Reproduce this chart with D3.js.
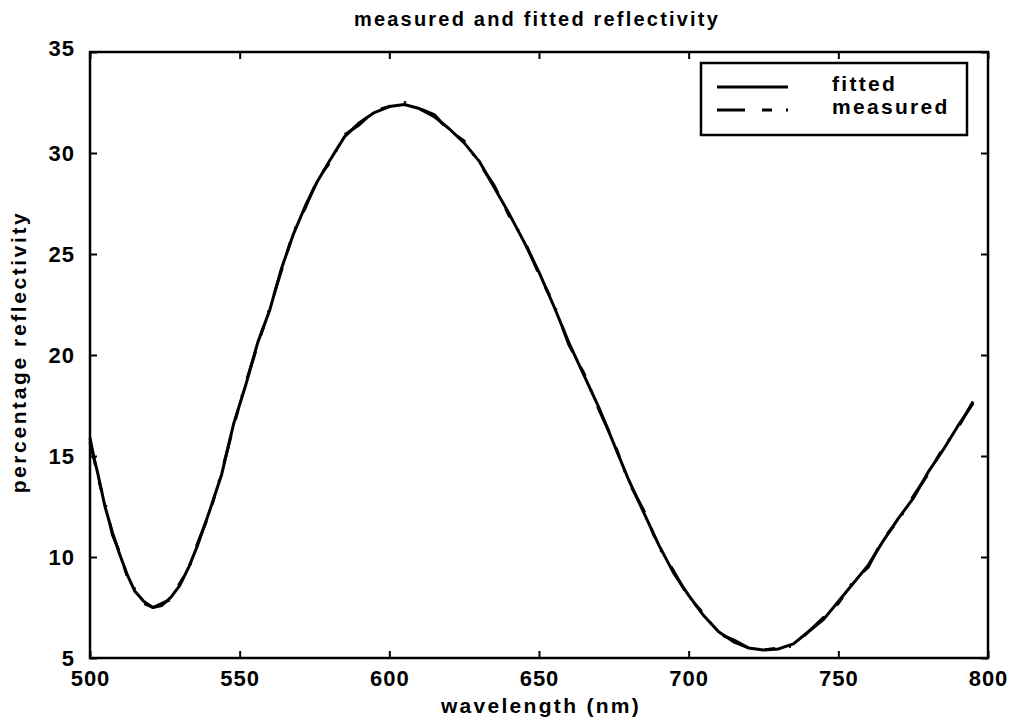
<!DOCTYPE html>
<head>
  <meta charset="utf-8">
  <script src="https://d3js.org/d3.v7.min.js"></script>
  <style>
    body { margin: 0; background: white; }
    text {
      font-family: "Liberation Sans", Arial, sans-serif;
      font-weight: bold;
      fill: black;
    }
    path.curve {
      fill: none;
      stroke: black;
      stroke-width: 3;
      stroke-linejoin: round;
    }
  </style>
</head>

<body>
  <script>
const W = 1014;
const H = 722;
const L = 90, R = 988, T = 52, B = 658;

// wavelength (nm)
const wavelength = [500, 502.5, 505, 507.5, 510, 512.5, 515, 518, 521, 524, 527, 530, 533, 536,
  540, 544, 548, 552, 556, 560, 564, 568, 572, 576, 580, 585, 590, 595, 600, 605, 610, 615,
  620, 625, 630, 635, 640, 645, 650, 655, 660, 665, 670, 675, 680, 685, 690, 695, 700, 705,
  710, 715, 720, 725, 730, 735, 740, 745, 750, 755, 760, 765, 770, 775, 780, 785, 790, 795];

// fitted reflectivity (%)
const fitted = [15.7, 14.2, 12.5, 11.2, 10.1, 9.1, 8.3, 7.8, 7.5, 7.6, 8.0, 8.6, 9.5, 10.6,
  12.3, 14.1, 16.6, 18.5, 20.6, 22.2, 24.3, 26.0, 27.4, 28.6, 29.6, 30.8, 31.5, 32.0, 32.3, 32.4, 32.2, 31.8,
  31.2, 30.5, 29.6, 28.3, 27.0, 25.6, 24.1, 22.4, 20.6, 19.0, 17.4, 15.6, 13.8, 12.2, 10.6, 9.2, 8.1, 7.1,
  6.3, 5.8, 5.5, 5.4, 5.45, 5.7, 6.3, 6.9, 7.8, 8.7, 9.6, 10.8, 11.9, 12.9, 14.2, 15.3, 16.5, 17.6];

// measured reflectivity (%)
const measured = [15.9, 14.0, 12.7, 11.1, 10.2, 9.0, 8.4, 7.7, 7.5, 7.7, 7.9, 8.7, 9.4, 10.7,
  12.2, 14.2, 16.5, 18.6, 20.5, 22.3, 24.2, 26.1, 27.3, 28.7, 29.5, 30.9, 31.4, 32.1, 32.3, 32.5, 32.2, 31.9,
  31.1, 30.6, 29.5, 28.4, 26.9, 25.7, 24.0, 22.5, 20.5, 19.1, 17.3, 15.7, 13.7, 12.3, 10.5, 9.3, 8.0, 7.2,
  6.2, 5.9, 5.5, 5.4, 5.5, 5.6, 6.3, 7.0, 7.7, 8.8, 9.5, 10.9, 11.8, 13.0, 14.1, 15.4, 16.4, 17.7];

const xTicks = [500, 550, 600, 650, 700, 750, 800];
const yTicks = [5, 10, 15, 20, 25, 30, 35];

var svg = d3.select("body").append("svg")
  .attr("width", W)
  .attr("height", H);

var x = d3.scaleLinear().domain([500, 800]).range([L, R]);
var y = d3.scaleLinear().domain([5, 35]).range([B, T]);

var line = d3.line()
  .x(d => x(d[0]))
  .y(d => y(d[1]));

// curves
svg.append("path")
  .attr("class", "curve")
  .attr("d", line(wavelength.map((w, i) => [w, fitted[i]])));

svg.append("path")
  .attr("class", "curve")
  .attr("stroke-dasharray", "28,17,10,14,2,17")
  .attr("d", line(wavelength.map((w, i) => [w, measured[i]])));

// axes, ticks inside on all four sides
function axisStyle(g) {
  g.select(".domain").remove();
  g.selectAll(".tick line").attr("stroke", "black").attr("stroke-width", 2);
  g.selectAll(".tick text")
    .style("font-size", "22px")
    .style("letter-spacing", "1px");
}

svg.append("g")
  .attr("transform", "translate(0," + B + ")")
  .call(d3.axisBottom(x).tickValues(xTicks).tickSizeInner(-7).tickPadding(12))
  .call(axisStyle);

svg.append("g")
  .attr("transform", "translate(0," + T + ")")
  .call(d3.axisTop(x).tickValues(xTicks).tickSizeInner(-7).tickFormat(""))
  .call(axisStyle);

svg.append("g")
  .attr("transform", "translate(" + L + ",0)")
  .call(d3.axisLeft(y).tickValues(yTicks).tickSizeInner(-7).tickPadding(15))
  .call(axisStyle);

svg.append("g")
  .attr("transform", "translate(" + R + ",0)")
  .call(d3.axisRight(y).tickValues(yTicks).tickSizeInner(-7).tickFormat(""))
  .call(axisStyle);

// top label sits a little lower
svg.selectAll("g .tick text").filter(d => d === 35).attr("dy", "0.15em");

// frame
svg.append("rect")
  .attr("x", L).attr("y", T)
  .attr("width", R - L).attr("height", B - T)
  .attr("fill", "none")
  .attr("stroke", "black")
  .attr("stroke-width", 2.5);

// titles
svg.append("text")
  .attr("x", (L + R) / 2 - 2).attr("y", 26)
  .attr("text-anchor", "middle")
  .style("font-size", "20px")
  .style("letter-spacing", "2.2px")
  .text("measured and fitted reflectivity");

svg.append("text")
  .attr("x", (L + R) / 2 + 2).attr("y", 713)
  .attr("text-anchor", "middle")
  .style("font-size", "21px")
  .style("letter-spacing", "2.3px")
  .text("wavelength (nm)");

svg.append("text")
  .attr("transform", "translate(26," + ((T + B) / 2 - 3) + ") rotate(-90)")
  .attr("text-anchor", "middle")
  .style("font-size", "21px")
  .style("letter-spacing", "2.6px")
  .text("percentage reflectivity");

// legend
var legend = svg.append("g");
legend.append("rect")
  .attr("x", 701).attr("y", 63)
  .attr("width", 266).attr("height", 72)
  .attr("fill", "white")
  .attr("stroke", "black")
  .attr("stroke-width", 2.5);

legend.append("line")
  .attr("x1", 717).attr("x2", 788)
  .attr("y1", 87).attr("y2", 87)
  .attr("stroke", "black").attr("stroke-width", 3);

legend.append("line")
  .attr("x1", 717).attr("x2", 789)
  .attr("y1", 110).attr("y2", 110)
  .attr("stroke", "black").attr("stroke-width", 3)
  .attr("stroke-dasharray", "28,17,10,14,2,17");

legend.append("text")
  .attr("x", 832).attr("y", 91)
  .style("font-size", "21px")
  .style("letter-spacing", "2.3px")
  .text("fitted");

legend.append("text")
  .attr("x", 832).attr("y", 114)
  .style("font-size", "21px")
  .style("letter-spacing", "2.3px")
  .text("measured");
  </script>
</body>
